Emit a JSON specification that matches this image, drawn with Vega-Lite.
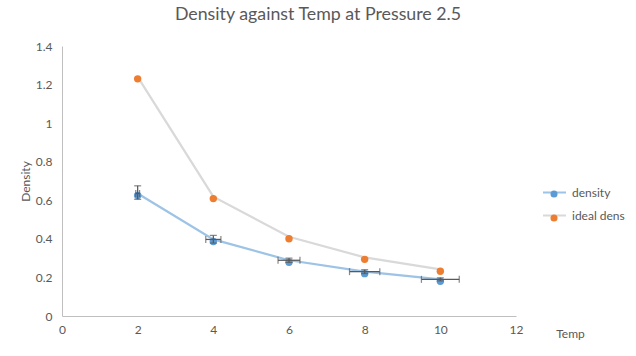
{
  "$schema": "https://vega.github.io/schema/vega-lite/v6.json",
  "autosize": "none",
  "width": 454,
  "height": 270,
  "padding": {"left": 62, "top": 46, "right": 120, "bottom": 40},
  "background": "white",
  "config": {
    "view": {"stroke": null},
    "font": "Lato",
    "axis": {"grid": false, "ticks": false, "domainColor": "#bfbfbf", "labelColor": "#595959", "labelFontSize": 12, "titleColor": "#595959", "titleFontSize": 12, "titleFontWeight": "normal", "labelFont": "Lato", "titleFont": "Lato", "labelOverlap": false, "labelFlush": false}
  },
  "title": {"text": "Density against Temp at Pressure 2.5", "fontSize": 17.8, "fontWeight": "normal", "color": "#595959", "font": "Lato", "anchor": "middle", "dx": 29, "offset": 16},
  "data": {
    "values": [
      {"temp": 2, "density": 0.635, "dlo": 0.605, "dhi": 0.675, "tlo": 1.95, "thi": 2.05, "ideal dens": 1.24},
      {"temp": 4, "density": 0.397, "dlo": 0.378, "dhi": 0.418, "tlo": 3.8, "thi": 4.2, "ideal dens": 0.619},
      {"temp": 6, "density": 0.289, "dlo": 0.278, "dhi": 0.3, "tlo": 5.71, "thi": 6.29, "ideal dens": 0.411},
      {"temp": 8, "density": 0.23, "dlo": 0.22, "dhi": 0.24, "tlo": 7.6, "thi": 8.4, "ideal dens": 0.304},
      {"temp": 10, "density": 0.19, "dlo": 0.182, "dhi": 0.198, "tlo": 9.5, "thi": 10.5, "ideal dens": 0.242}
    ]
  },
  "layer": [
    {
      "transform": [{"fold": ["density", "ideal dens"], "as": ["series", "value"]}],
      "mark": {"type": "line", "strokeWidth": 2.25},
      "encoding": {
        "x": {"field": "temp", "type": "quantitative", "scale": {"domain": [0, 12], "nice": false}, "axis": {"values": [0, 2, 4, 6, 8, 10, 12], "labelOverlap": false, "labelFlush": false, "labelPadding": 8, "title": "Temp", "titleX": 508, "titleY": 17, "titleAlign": "center", "titleBaseline": "middle", "titleAnchor": null}},
        "y": {"field": "value", "type": "quantitative", "scale": {"domain": [0, 1.4], "nice": false}, "axis": {"tickCount": 7, "labelOverlap": false, "labelFlush": false, "format": ".1~f", "labelPadding": 10, "title": "Density", "titleX": -37, "titleY": 135, "titleAngle": -90, "titleAlign": "center", "titleBaseline": "middle", "titleAnchor": null}},
        "stroke": {"field": "series", "type": "nominal", "scale": {"domain": ["density", "ideal dens"], "range": ["#9dc3e6", "#d9d9d9"]}, "legend": {"title": null, "orient": "none", "legendX": 480, "legendY": 134, "symbolType": "M-1,0H1", "symbolSize": 529, "symbolStrokeWidth": 2, "labelFontSize": 12, "labelColor": "#595959", "labelFont": "Lato", "rowPadding": 4, "labelOffset": 5}}
      }
    },
    {
      "transform": [{"fold": ["density", "ideal dens"], "as": ["series2", "value"]}],
      "mark": {"type": "point", "filled": true, "opacity": 1, "size": 55, "yOffset": 2},
      "encoding": {
        "x": {"field": "temp", "type": "quantitative"},
        "y": {"field": "value", "type": "quantitative"},
        "fill": {"field": "series2", "type": "nominal", "scale": {"range": ["#5b9bd5", "#ed7d31"]}, "legend": {"title": null, "orient": "none", "legendX": 486, "legendY": 142, "symbolType": "circle", "symbolSize": 50, "symbolOpacity": 1, "symbolStrokeWidth": 0, "labelFontSize": 12, "labelOpacity": 0, "labelFont": "Lato", "rowPadding": 12, "labelOffset": 5}}
      }
    },
    {
      "mark": {"type": "rule", "color": "#595959", "strokeWidth": 1.25},
      "encoding": {
        "x": {"field": "temp", "type": "quantitative"},
        "y": {"field": "dlo", "type": "quantitative"},
        "y2": {"field": "dhi"}
      }
    },
    {
      "mark": {"type": "rule", "color": "#595959", "strokeWidth": 1.25},
      "encoding": {
        "x": {"field": "tlo", "type": "quantitative"},
        "x2": {"field": "thi"},
        "y": {"field": "density", "type": "quantitative"}
      }
    },
    {
      "transform": [{"fold": ["dlo", "dhi"], "as": ["end", "yv"]}],
      "mark": {"type": "tick", "orient": "horizontal", "color": "#595959", "size": 7, "thickness": 1.25},
      "encoding": {
        "x": {"field": "temp", "type": "quantitative"},
        "y": {"field": "yv", "type": "quantitative"}
      }
    },
    {
      "transform": [{"fold": ["tlo", "thi"], "as": ["end", "xv"]}],
      "mark": {"type": "tick", "orient": "vertical", "color": "#595959", "size": 7, "thickness": 1.25},
      "encoding": {
        "x": {"field": "xv", "type": "quantitative"},
        "y": {"field": "density", "type": "quantitative"}
      }
    }
  ]
}
